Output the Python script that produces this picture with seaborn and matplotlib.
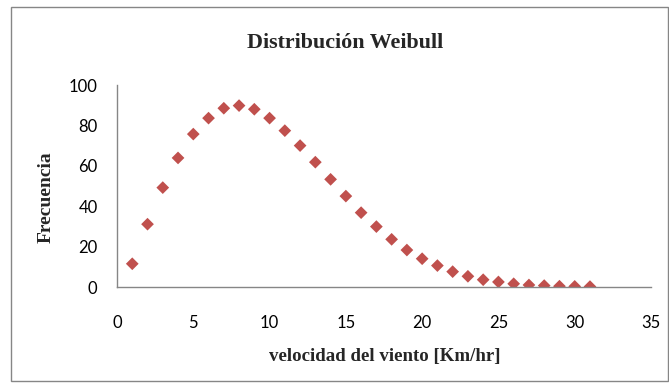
import matplotlib
matplotlib.use("Agg")
import matplotlib.pyplot as plt
import seaborn as sns
import pandas as pd
from matplotlib.patches import Rectangle

velocidad = list(range(1, 32))
frecuencia = [11.5, 31.1, 49.2, 63.9, 75.7, 83.6, 88.5, 89.8, 88.0, 83.6,
              77.4, 70.0, 61.8, 53.3, 45.0, 36.8, 29.9, 23.6, 18.3, 14.0,
              10.6, 7.6, 5.3, 3.6, 2.5, 1.6, 1.0, 0.7, 0.4, 0.3, 0.2]
x_ticks = [0, 5, 10, 15, 20, 25, 30, 35]
y_ticks = [0, 20, 40, 60, 80, 100]

df = pd.DataFrame({"velocidad": velocidad, "frecuencia": frecuencia})

sns.set_style("white")
W, H = 669, 387
fig = plt.figure(figsize=(W / 100, H / 100), dpi=100)
ax = fig.add_axes([117 / W, 1 - 287 / H, (651 - 117) / W, (287 - 85) / H])

sns.scatterplot(data=df, x="velocidad", y="frecuencia", ax=ax,
                marker="D", s=42, color="#C0504D", edgecolor="none", legend=False)

ax.set_xlim(0, 35)
ax.set_ylim(0, 100)
ax.set_xticks(x_ticks)
ax.set_yticks(y_ticks)

tick_font = {"family": "Lato", "size": 12}
ax.set_xticklabels([str(t) for t in x_ticks], **tick_font)
ax.set_yticklabels([str(t) for t in y_ticks], **tick_font)

for side in ("top", "right"):
    ax.spines[side].set_visible(False)
for side in ("left", "bottom"):
    ax.spines[side].set_color("#868686")
    ax.spines[side].set_linewidth(1.0)

ax.tick_params(axis="x", direction="out", length=5, width=1, color="#868686",
               pad=15, labelcolor="black")
ax.tick_params(axis="y", direction="out", length=5, width=1, color="#868686",
               pad=9, labelcolor="black")

serif_bold = {"family": "Liberation Serif", "weight": "bold"}
ax.set_xlabel("")
ax.set_ylabel("")
fig.text(385 / W, 1 - 357 / H, "velocidad del viento [Km/hr]", ha="center",
         va="center", fontsize=13.6, **serif_bold)
fig.text(46 / W, 1 - 197 / H, "Frecuencia", ha="center", va="center",
         rotation=90, fontsize=14, **serif_bold)
fig.text(345.5 / W, 1 - 43 / H, "Distribución Weibull", ha="center", va="center",
         fontsize=15.8, **serif_bold)

# Chart-area frame
fig.patches.append(Rectangle((11 / W, 1 - 381 / H), 657 / W, 374 / H,
                             transform=fig.transFigure, fill=False,
                             edgecolor="#868686", linewidth=1.0))

fig.savefig("out.png", dpi=100)
